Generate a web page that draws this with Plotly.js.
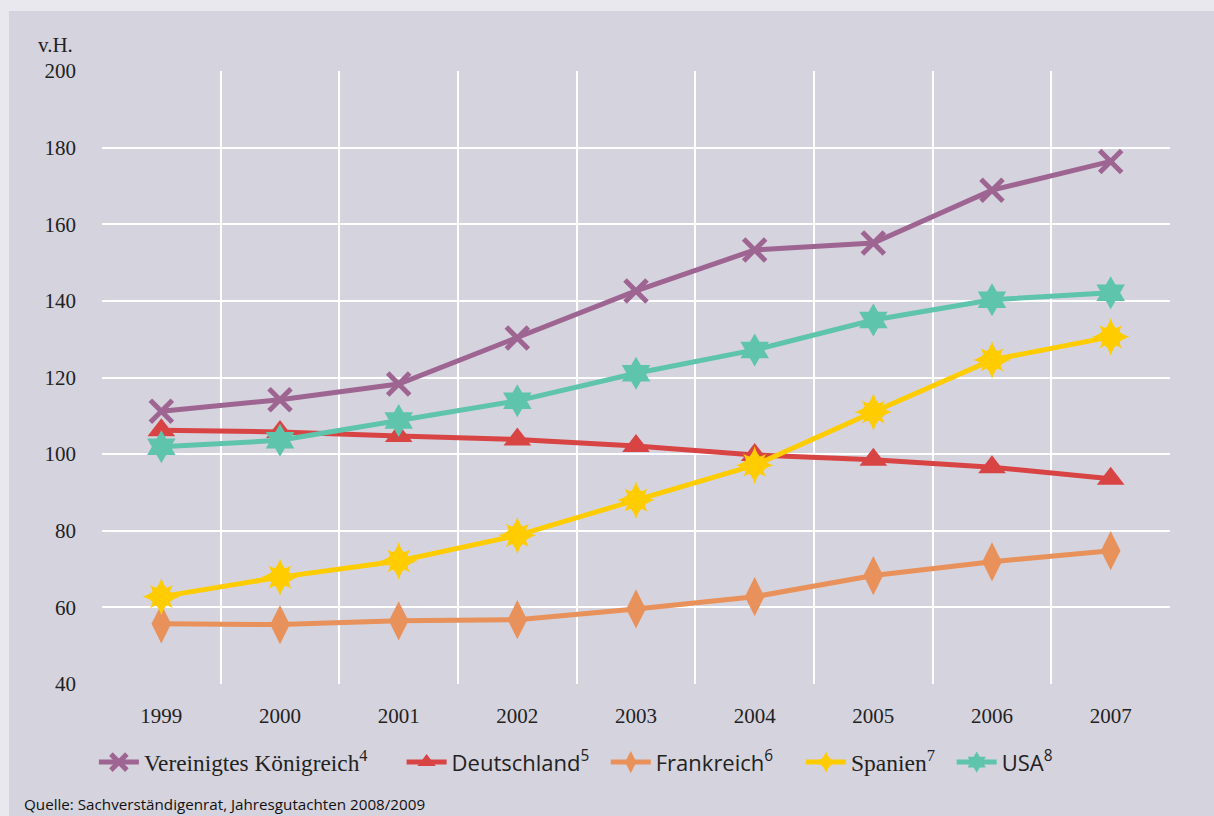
<!DOCTYPE html>
<html>
<head>
<meta charset="utf-8">
<script src="https://cdn.plot.ly/plotly-3.0.1.min.js"></script>
<style>
  html, body { margin: 0; padding: 0; background: #e9e8ee; }
  #panel { position: absolute; left: 9px; top: 11px; width: 1205px; height: 805px; background: #d5d3de; }
  #chart { position: absolute; left: 0; top: 0; width: 1214px; height: 816px; }
</style>
</head>
<body>
<div id="panel"></div>
<div id="chart"></div>
<script>
const years = ["1999", "2000", "2001", "2002", "2003", "2004", "2005", "2006", "2007"];
const vereinigtesKoenigreich = [111.2, 114.2, 118.3, 130.3, 142.6, 153.3, 155.1, 168.9, 176.4];
const deutschland = [106.2, 105.8, 104.7, 103.8, 102.1, 99.8, 98.5, 96.6, 93.6];
const frankreich = [55.7, 55.5, 56.5, 56.8, 59.6, 62.8, 68.3, 71.9, 74.8];
const spanien = [62.8, 67.9, 72.1, 78.8, 88.0, 97.1, 111.0, 124.6, 130.6];
const usa = [101.9, 103.6, 108.8, 113.9, 121.1, 127.2, 135.0, 140.3, 142.1];
const yTicks = [40, 60, 80, 100, 120, 140, 160, 180, 200];

const serif = "Liberation Serif, DejaVu Serif, serif";
const sans = "Open Sans, Noto Sans, sans-serif";

const cUK = "#9e6592", cDE = "#d84444", cFR = "#e8915a", cES = "#ffcc00", cUS = "#5ec4ac";

function lbl(text, sup, font, size, pad) {
  return '<span style="font-family:' + font + ';font-size:' + size + 'px">' + text + '<sup>' + sup + '</sup>' +
    '\u00A0'.repeat(pad) + '</span>';
}

const traces = [
  { x: years, y: vereinigtesKoenigreich, name: lbl("Vereinigtes Königreich", "4", serif, 23.3, 5), mode: "lines+markers",
    line: { color: cUK, width: 5 }, marker: { symbol: "x-thin", size: 22, color: cUK, line: { color: cUK, width: 5 } } },
  { x: years, y: deutschland, name: lbl("Deutschland", "5", sans, 22, 2), mode: "lines+markers",
    line: { color: cDE, width: 5 }, marker: { symbol: "triangle-up", size: 24, color: cDE } },
  { x: years, y: frankreich, name: lbl("Frankreich", "6", sans, 22, 4), mode: "lines+markers",
    line: { color: cFR, width: 5 }, marker: { symbol: "diamond-tall", size: 28, color: cFR } },
  { x: years, y: spanien, name: lbl("Spanien", "7", serif, 23.5, 2), mode: "lines+markers",
    line: { color: cES, width: 5 }, marker: { symbol: "star-diamond", size: 27, color: cES } },
  { x: years, y: spanien, mode: "markers", showlegend: false, hoverinfo: "skip",
    marker: { symbol: "star-square", size: 21, color: cES } },
  { x: years, y: usa, name: lbl("USA", "8", sans, 22, 0), mode: "lines+markers",
    line: { color: cUS, width: 5 }, marker: { symbol: "hexagram", size: 25, color: cUS } }
];

const layout = {
  width: 1214, height: 816,
  paper_bgcolor: "rgba(0,0,0,0)",
  plot_bgcolor: "#d5d3de",
  margin: { l: 102, r: 44, t: 71, b: 132 },
  font: { family: serif, size: 21, color: "#222222" },
  xaxis: {
    type: "category", categoryorder: "array", categoryarray: years,
    range: [-0.5, 8.5], autorange: false,
    tickson: "boundaries", showgrid: true, gridcolor: "#ffffff", gridwidth: 2,
    ticks: "", zeroline: false, showline: false,
    tickfont: { family: serif, size: 21, color: "#222222" },
    ticklabelstandoff: 17
  },
  yaxis: {
    range: [40, 200], autorange: false, tickvals: yTicks, showgrid: true, gridcolor: "#ffffff", gridwidth: 2,
    zeroline: false, showline: false, ticks: "",
    tickfont: { family: serif, size: 21, color: "#222222" },
    ticklabelstandoff: 25
  },
  showlegend: true,
  legend: {
    orientation: "h", x: -0.0076, xanchor: "left", y: -0.0935, yanchor: "top",
    bgcolor: "rgba(0,0,0,0)", font: { size: 22, color: "#222222" },
    itemwidth: 40, tracegroupgap: 0
  },
  annotations: [
    { text: "v.H.", xref: "paper", yref: "paper", x: -0.025, xanchor: "right", y: 1.02, yanchor: "bottom",
      showarrow: false, font: { family: serif, size: 21, color: "#222222" } },
    { text: "Quelle: Sachverständigenrat, Jahresgutachten 2008/2009", xref: "paper", yref: "paper",
      x: -0.0745, xanchor: "left", y: -0.195, yanchor: "middle", showarrow: false,
      font: { family: sans, size: 15.2, color: "#111111" } }
  ]
};

Plotly.newPlot("chart", traces, layout, { displayModeBar: false, staticPlot: true });
</script>
</body>
</html>
